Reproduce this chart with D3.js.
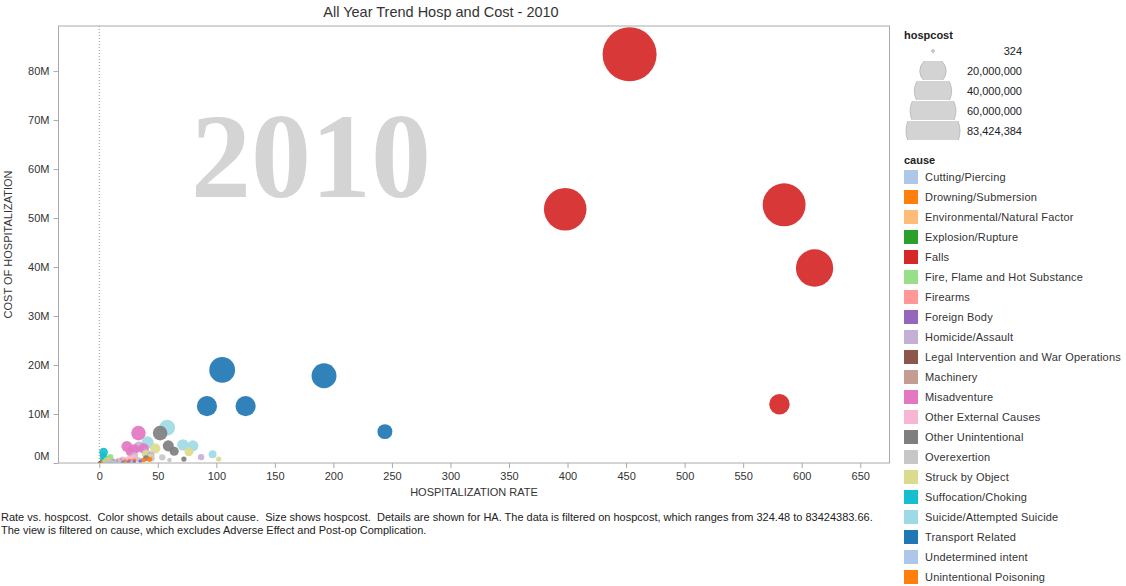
<!DOCTYPE html>
<html>
<head>
<meta charset="utf-8">
<script src="https://cdn.jsdelivr.net/npm/d3@7"></script>
<style>
  body { margin: 0; background: #fff; }
  svg { font-family: "Liberation Sans", Arial, sans-serif; }
</style>
</head>
<body>
<svg id="chart" width="1126" height="586"></svg>
<script>
// legend order of causes and their colours
const causes = ["Cutting/Piercing", "Drowning/Submersion", "Environmental/Natural Factor", "Explosion/Rupture",
  "Falls", "Fire, Flame and Hot Substance", "Firearms", "Foreign Body", "Homicide/Assault",
  "Legal Intervention and War Operations", "Machinery", "Misadventure", "Other External Causes",
  "Other Unintentional", "Overexertion", "Struck by Object", "Suffocation/Choking",
  "Suicide/Attempted Suicide", "Transport Related", "Undetermined intent", "Unintentional Poisoning"];
const causeColors = ["#aec7e8", "#ff7f0e", "#ffbb78", "#2ca02c", "#d62728", "#98df8a", "#ff9896", "#9467bd",
  "#c5b0d5", "#8c564b", "#c49c94", "#e377c2", "#f7b6d2", "#7f7f7f", "#c7c7c7", "#dbdb8d", "#17becf",
  "#9edae5", "#1f77b4", "#aec7e8", "#ff7f0e"];

// one entry per mark (cause index, rate, cost)
const pointCause = [
  4, 4, 4, 4, 4,
  18, 18, 18, 18, 18,
  0, 0, 0, 0, 0,
  1, 1, 1, 1, 1,
  2, 2, 2, 2, 2,
  3, 3, 3, 3, 3,
  5, 5, 5, 5, 5,
  6, 6, 6, 6, 6,
  7, 7, 7, 7, 7,
  8, 8, 8, 8, 8,
  9, 9, 9,
  10, 10, 10, 10, 10,
  11, 11, 11, 11, 11,
  12, 12, 12, 12, 12,
  13, 13, 13, 13, 13,
  14, 14, 14, 14, 14,
  15, 15, 15, 15, 15,
  16, 16, 16, 16, 16,
  17, 17, 17, 17, 17,
  19, 19, 19, 19, 19,
  20, 20, 20, 20, 20
];
const hospRate = [
  453, 398, 585, 611, 581,
  105, 192, 92, 125, 244,
  15, 22, 28, 36, 12,
  1, 2, 0.5, 1.5, 1,
  6.6, 4, 8, 10, 3,
  1.4, 0.8, 1, 0.5, 1.2,
  9.4, 6, 8, 5, 4,
  1, 0.7, 1.2, 0.5, 0.9,
  30, 25, 35, 28, 20,
  34, 40, 87, 30, 44,
  0.3, 0.5, 0.4,
  12, 18, 24, 15, 10,
  33.5, 23.6, 26.5, 30, 38,
  20, 26, 16, 30, 22,
  52, 59, 64, 72.3, 40,
  53.8, 33, 45, 60, 25,
  76.6, 47.8, 102, 40, 44,
  3.7, 3.5, 5, 2.5, 4,
  58, 41.3, 71.5, 80, 96.8,
  10, 14, 8, 18, 6,
  43, 30, 38, 22, 26
];
const hospCost = [
  83424384, 51800000, 52700000, 39800000, 12000000,
  19000000, 17800000, 11600000, 11600000, 6400000,
  400000, 500000, 300000, 600000, 200000,
  50000, 80000, 30000, 60000, 40000,
  600000, 300000, 500000, 400000, 200000,
  270000, 100000, 150000, 50000, 200000,
  1200000, 700000, 900000, 500000, 400000,
  200000, 100000, 150000, 80000, 120000,
  300000, 250000, 400000, 350000, 200000,
  3300000, 2000000, 1200000, 1500000, 1600000,
  20000, 30000, 324,
  500000, 600000, 300000, 400000, 300000,
  6100000, 3400000, 2300000, 2800000, 3000000,
  800000, 1000000, 600000, 1200000, 700000,
  6100000, 3500000, 2400000, 800000, 1000000,
  1150000, 700000, 900000, 600000, 500000,
  2300000, 3000000, 800000, 1800000, 1200000,
  2200000, 1400000, 800000, 600000, 1000000,
  7200000, 4200000, 3700000, 3500000, 1800000,
  300000, 200000, 150000, 350000, 100000,
  750000, 500000, 600000, 400000, 450000
];

const xTicks = d3.range(0, 651, 50);
const yTicks = d3.range(0, 80000001, 10000000);
const sizeLegendValues = [324, 20000000, 40000000, 60000000, 83424384];
const sizeLegendLabels = ["324", "20,000,000", "40,000,000", "60,000,000", "83,424,384"];

const svg = d3.select("#chart");
const plot = { left: 58.5, top: 26, right: 889.5, bottom: 463 };

const x = d3.scaleLinear().domain([-34.8, 675]).range([plot.left, plot.right]);
const y = d3.scaleLinear().domain([0, 89200000]).range([plot.bottom, plot.top]);
const r = d3.scaleSqrt().domain([0, 83424384]).range([0, 27]);

// titel
svg.append("text")
  .attr("x", 441).attr("y", 17)
  .attr("text-anchor", "middle")
  .style("font-size", "14.5px").style("fill", "#333")
  .text("All Year Trend Hosp and Cost - 2010");

// rok v pozadi
svg.append("text")
  .attr("x", 311).attr("y", 197)
  .attr("text-anchor", "middle")
  .style("font-family", "'Liberation Serif', 'DejaVu Serif', serif")
  .style("font-weight", "bold").style("font-size", "120px")
  .style("fill", "#d4d4d4")
  .text("2010");

// nulova cara
svg.append("line")
  .attr("x1", x(0)).attr("x2", x(0))
  .attr("y1", plot.top).attr("y2", plot.bottom)
  .attr("stroke", "#999").attr("stroke-dasharray", "1,2");

svg.append("clipPath").attr("id", "plotclip")
  .append("rect")
  .attr("x", plot.left).attr("y", plot.top)
  .attr("width", plot.right - plot.left).attr("height", plot.bottom - plot.top);

const points = pointCause.map((c, i) => ({ cause: c, rate: hospRate[i], cost: hospCost[i] }))
  .sort((a, b) => b.cost - a.cost);

svg.append("g").attr("clip-path", "url(#plotclip)")
  .selectAll("circle")
  .data(points)
  .enter().append("circle")
  .attr("cx", d => x(d.rate))
  .attr("cy", d => y(d.cost))
  .attr("r", d => Math.max(1.5, r(d.cost)))
  .attr("fill", d => causeColors[d.cause])
  .attr("fill-opacity", 0.92);

// ramecek
svg.append("rect")
  .attr("x", plot.left).attr("y", plot.top)
  .attr("width", plot.right - plot.left).attr("height", plot.bottom - plot.top)
  .attr("fill", "none").attr("stroke", "#aaa");

// osa x
const xAxis = svg.append("g")
  .attr("transform", `translate(0,${plot.bottom})`)
  .call(d3.axisBottom(x).tickValues(xTicks).tickSize(5).tickPadding(4));
xAxis.select(".domain").remove();
xAxis.selectAll("line").attr("stroke", "#aaa");
xAxis.selectAll("text").style("font-size", "11px").style("fill", "#333")
  .style("font-family", "'Liberation Sans', Arial, sans-serif");

// osa y
const yAxis = svg.append("g")
  .attr("transform", `translate(${plot.left},0)`)
  .call(d3.axisLeft(y).tickValues(yTicks).tickSize(5).tickPadding(4)
    .tickFormat(d => d / 1000000 + "M"));
yAxis.select(".domain").remove();
yAxis.selectAll("line").attr("stroke", "#aaa");
yAxis.selectAll("text").style("font-size", "11px").style("fill", "#333")
  .style("font-family", "'Liberation Sans', Arial, sans-serif")
  .attr("dy", d => d === 0 ? "-0.3em" : "0.32em");

svg.append("text")
  .attr("x", (plot.left + plot.right) / 2).attr("y", 496)
  .attr("text-anchor", "middle")
  .style("font-size", "11px").style("fill", "#333")
  .text("HOSPITALIZATION RATE");

svg.append("text")
  .attr("transform", `translate(12,${(plot.top + plot.bottom) / 2}) rotate(-90)`)
  .attr("text-anchor", "middle")
  .style("font-size", "11px").style("fill", "#333")
  .text("COST OF HOSPITALIZATION");

// popisek pod grafem
const footer = [
  "Rate vs. hospcost.  Color shows details about cause.  Size shows hospcost.  Details are shown for HA. The data is filtered on hospcost, which ranges from 324.48 to 83424383.66.",
  "The view is filtered on cause, which excludes Adverse Effect and Post-op Complication."
];
footer.forEach((t, i) => {
  svg.append("text")
    .attr("x", 1).attr("y", 521 + i * 13)
    .style("font-size", "11px").style("fill", "#222")
    .style("white-space", "pre")
    .text(t);
});

// legenda velikosti
svg.append("text").attr("x", 904).attr("y", 39)
  .style("font-size", "11px").style("font-weight", "bold").style("fill", "#222")
  .text("hospcost");

const sizeLeg = svg.append("g");
sizeLegendValues.forEach((v, i) => {
  const cy = 51 + i * 20;
  sizeLeg.append("clipPath").attr("id", "sclip" + i)
    .append("rect").attr("x", 900).attr("y", cy - 10).attr("width", 70).attr("height", 19);
  sizeLeg.append("circle")
    .attr("cx", 933).attr("cy", cy)
    .attr("r", Math.max(1.5, r(v)))
    .attr("clip-path", `url(#sclip${i})`)
    .attr("fill", "#d3d3d3").attr("stroke", "#b5b5b5").attr("stroke-width", 0.8);
  sizeLeg.append("text")
    .attr("x", 1022).attr("y", cy + 4)
    .attr("text-anchor", "end")
    .style("font-size", "11px").style("fill", "#222")
    .text(sizeLegendLabels[i]);
});

// legenda barev
svg.append("text").attr("x", 904).attr("y", 164)
  .style("font-size", "11px").style("font-weight", "bold").style("fill", "#222")
  .text("cause");

const colLeg = svg.append("g");
causes.forEach((c, i) => {
  const cy = 177 + i * 20;
  colLeg.append("rect")
    .attr("x", 904).attr("y", cy - 7).attr("width", 14).attr("height", 14)
    .attr("fill", causeColors[i]);
  colLeg.append("text")
    .attr("x", 925).attr("y", cy + 4)
    .style("font-size", "11px").style("fill", "#333")
    .style("letter-spacing", "0.2px")
    .text(c);
});
</script>
</body>
</html>
